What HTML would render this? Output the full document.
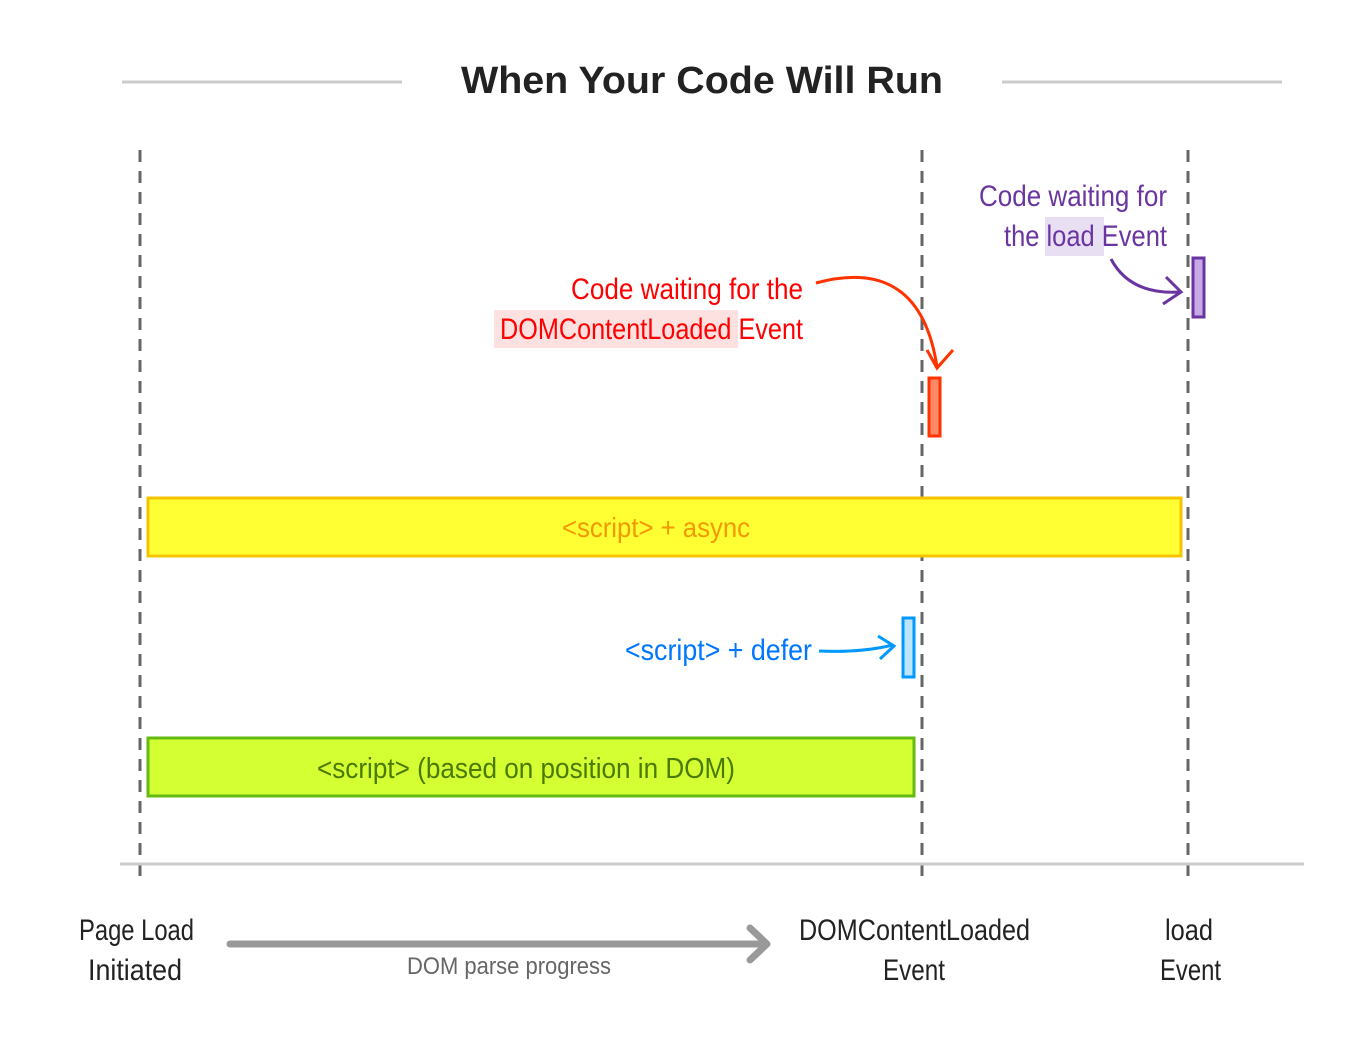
<!DOCTYPE html>
<html><head><meta charset="utf-8"><style>
html,body{margin:0;padding:0;background:#fff;}
svg{display:block}
text{font-family:"Liberation Sans",sans-serif;}
</style></head><body>
<svg width="1360" height="1040" viewBox="0 0 1360 1040" xmlns="http://www.w3.org/2000/svg">
<line x1="122" y1="82" x2="402" y2="82" stroke="#ccc" stroke-width="3"/>
<line x1="1002" y1="82" x2="1282" y2="82" stroke="#ccc" stroke-width="3"/>
<text x="461" y="93" textLength="482" lengthAdjust="spacingAndGlyphs" font-size="38" font-weight="bold" fill="#222">When Your Code Will Run</text>
<g stroke="#666" stroke-width="3" stroke-dasharray="12,9">
<line x1="140" y1="150" x2="140" y2="885"/>
<line x1="922" y1="150" x2="922" y2="885"/>
<line x1="1188" y1="150" x2="1188" y2="885"/>
</g>
<line x1="120" y1="864" x2="1304" y2="864" stroke="#ccc" stroke-width="3"/>
<!-- purple -->
<text x="979" y="206" textLength="188" lengthAdjust="spacingAndGlyphs" font-size="30" fill="#6a35a0">Code waiting for</text>
<rect x="1045" y="217" width="59" height="39" fill="#e8dff3"/>
<text x="1004" y="246" textLength="163" lengthAdjust="spacingAndGlyphs" font-size="30" fill="#6a35a0">the load Event</text>
<path d="M1111 259 Q1130 295 1180 292" fill="none" stroke="#6a35a0" stroke-width="3"/>
<path d="M1166 277 L1181 292 L1163 304" fill="none" stroke="#6a35a0" stroke-width="3"/>
<rect x="1193" y="258" width="11" height="59" fill="#c7a9e6" stroke="#6a35a0" stroke-width="3"/>
<!-- red -->
<text x="571" y="299" textLength="232" lengthAdjust="spacingAndGlyphs" font-size="30" fill="#ff0000">Code waiting for the</text>
<rect x="494" y="310" width="244" height="38" fill="#fde0e0"/>
<text x="500" y="339" textLength="303" lengthAdjust="spacingAndGlyphs" font-size="30" fill="#ff0000">DOMContentLoaded Event</text>
<path d="M816 283 Q920 255 937 367" fill="none" stroke="#ff3300" stroke-width="3"/>
<path d="M927 350 L937 368 L953 350" fill="none" stroke="#ff3300" stroke-width="3"/>
<rect x="929" y="378" width="11" height="58" fill="#ff8866" stroke="#ff3300" stroke-width="3"/>
<!-- async -->
<rect x="148" y="498" width="1033" height="58" fill="#ffff33" stroke="#f5c400" stroke-width="3"/>
<text x="562" y="537" textLength="188" lengthAdjust="spacingAndGlyphs" font-size="28" fill="#f39800">&lt;script&gt; + async</text>
<!-- defer -->
<text x="625" y="660" textLength="187" lengthAdjust="spacingAndGlyphs" font-size="30" fill="#0077ff">&lt;script&gt; + defer</text>
<path d="M819 651 Q860 653 893 645" fill="none" stroke="#0099ff" stroke-width="3"/>
<path d="M878 636 L894 646 L880 659" fill="none" stroke="#0099ff" stroke-width="3"/>
<rect x="903" y="618" width="11" height="59" fill="#bfe4ff" stroke="#0099ff" stroke-width="3"/>
<!-- green -->
<rect x="148" y="738" width="766" height="58" fill="#d4ff33" stroke="#66bb11" stroke-width="3"/>
<text x="317" y="778" textLength="418" lengthAdjust="spacingAndGlyphs" font-size="29" fill="#4a7a00">&lt;script&gt; (based on position in DOM)</text>
<!-- bottom -->
<text x="79" y="940" textLength="115" lengthAdjust="spacingAndGlyphs" font-size="30" fill="#222">Page Load</text>
<text x="88" y="980" textLength="94" lengthAdjust="spacingAndGlyphs" font-size="30" fill="#222">Initiated</text>
<line x1="230" y1="944" x2="764" y2="944" stroke="#999" stroke-width="7" stroke-linecap="round"/>
<path d="M750 928 L767 944 L750 960" fill="none" stroke="#999" stroke-width="7" stroke-linecap="round" stroke-linejoin="round"/>
<text x="407" y="974" textLength="204" lengthAdjust="spacingAndGlyphs" font-size="24" fill="#666">DOM parse progress</text>
<text x="799" y="940" textLength="231" lengthAdjust="spacingAndGlyphs" font-size="30" fill="#222">DOMContentLoaded</text>
<text x="883" y="980" textLength="62" lengthAdjust="spacingAndGlyphs" font-size="30" fill="#222">Event</text>
<text x="1165" y="940" textLength="48" lengthAdjust="spacingAndGlyphs" font-size="30" fill="#222">load</text>
<text x="1160" y="980" textLength="61" lengthAdjust="spacingAndGlyphs" font-size="30" fill="#222">Event</text>
</svg>
</body></html>
